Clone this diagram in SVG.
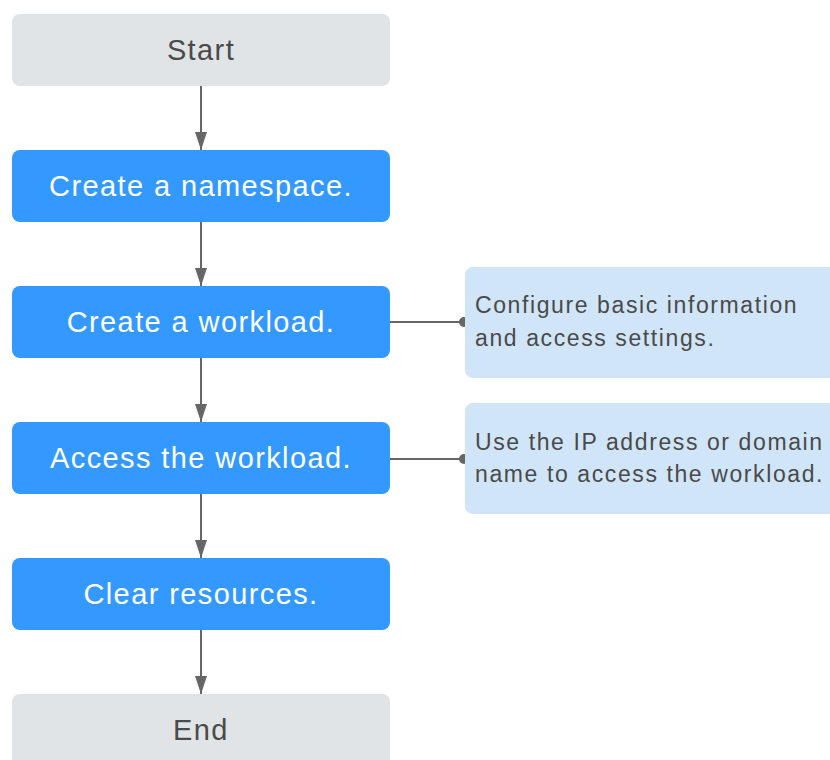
<svg xmlns="http://www.w3.org/2000/svg" width="830" height="760" viewBox="0 0 830 760">
<defs>
<style>
.grey{fill:#e1e4e6}
.blue{fill:#3399ff}
.note{fill:#d0e5f8}
.tg{font-family:"Liberation Sans",Arial,sans-serif;font-size:29px;fill:#4a4a4a;text-anchor:middle;letter-spacing:1.4px}
.tw{font-family:"Liberation Sans",Arial,sans-serif;font-size:29px;fill:#ffffff;text-anchor:middle;letter-spacing:1.4px}
.tn{font-family:"Liberation Sans",Arial,sans-serif;font-size:23px;fill:#4a4a4a;letter-spacing:1.6px}
.conn{stroke:#666;stroke-width:2;fill:none}
</style>
<marker id="arr" markerWidth="18" markerHeight="12" refX="18" refY="6" orient="auto" markerUnits="userSpaceOnUse" viewBox="0 0 18 12">
<path d="M0,0 L18,6 L0,12 z" fill="#666"/>
</marker>
</defs>
<rect width="830" height="760" fill="#fff"/>
<g id="connectors">
<line class="conn" x1="201" y1="86" x2="201" y2="150" marker-end="url(#arr)"/>
<line class="conn" x1="201" y1="222" x2="201" y2="286" marker-end="url(#arr)"/>
<line class="conn" x1="201" y1="358" x2="201" y2="422" marker-end="url(#arr)"/>
<line class="conn" x1="201" y1="494" x2="201" y2="558" marker-end="url(#arr)"/>
<line class="conn" x1="201" y1="630" x2="201" y2="694" marker-end="url(#arr)"/>
<line class="conn" x1="390" y1="322" x2="463" y2="322"/>
<circle cx="464" cy="322" r="5" fill="#666"/>
<line class="conn" x1="390" y1="459" x2="463" y2="459"/>
<circle cx="464" cy="459" r="5" fill="#666"/>
</g>
<g id="start"><rect class="grey" x="12" y="14" width="378" height="72" rx="8"/><text class="tg" x="201" y="60">Start</text></g>
<g id="namespace"><rect class="blue" x="12" y="150" width="378" height="72" rx="8"/><text class="tw" x="201" y="196">Create a namespace.</text></g>
<g id="workload"><rect class="blue" x="12" y="286" width="378" height="72" rx="8"/><text class="tw" x="201" y="332">Create a workload.</text></g>
<g id="access"><rect class="blue" x="12" y="422" width="378" height="72" rx="8"/><text class="tw" x="201" y="468">Access the workload.</text></g>
<g id="clear"><rect class="blue" x="12" y="558" width="378" height="72" rx="8"/><text class="tw" x="201" y="604">Clear resources.</text></g>
<g id="end"><rect class="grey" x="12" y="694" width="378" height="80" rx="8"/><text class="tg" x="201" y="740">End</text></g>
<g id="note1"><rect class="note" x="465" y="267" width="380" height="111" rx="8"/><text class="tn" x="475" y="313">Configure basic information</text><text class="tn" x="475" y="346">and access settings.</text></g>
<g id="note2"><rect class="note" x="465" y="403" width="380" height="111" rx="8"/><text class="tn" x="475" y="450">Use the IP address or domain</text><text class="tn" x="475" y="482">name to access the workload.</text></g>
</svg>
